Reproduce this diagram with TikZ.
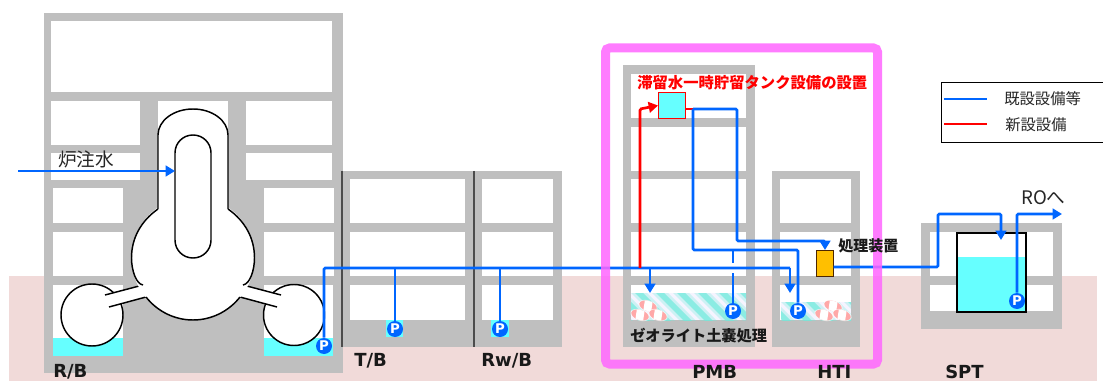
\documentclass[tikz,border=0pt]{standalone}
\usepackage{fontspec}
\usetikzlibrary{arrows.meta}
\setmainfont{DejaVu Sans}
\newfontfamily\cjk{Noto Sans CJK JP}
\definecolor{wallgray}{HTML}{BFBFBF}
\definecolor{ground}{HTML}{F1DAD9}
\definecolor{pipeblue}{HTML}{0066FF}
\definecolor{watercyan}{HTML}{66FFFF}
\definecolor{framepink}{HTML}{FF66FF}
\definecolor{stripeteal}{HTML}{6FEBDC}
\definecolor{stripebase}{HTML}{F6F4FF}
\definecolor{bagpink}{HTML}{FFA8A8}
\tikzset{
  x=0.75pt,y=-0.75pt,
  wall/.style={fill=wallgray,draw=none},
  room/.style={fill=white,draw=none},
  water/.style={fill=watercyan,draw=none},
  shellline/.style={draw=black,line width=1.1pt},
  shell/.style={shellline,fill=white},
  pipe/.style={draw=pipeblue,line width=2pt,rounded corners=1pt},
  newpipe/.style={draw=red,line width=2pt,rounded corners=1pt},
  pipetip/.style={-{Triangle[length=7pt,width=8pt]}},
  pump/.style={circle,fill=pipeblue,draw=none,inner sep=0pt,minimum size=12pt,text=white,font=\fontsize{10}{10}\selectfont\bfseries},
  jp/.style={font=\cjk\fontsize{#1}{#1}\selectfont,inner sep=0pt,text=black!85},
  jpb/.style={font=\cjk\bfseries\fontsize{#1}{#1}\selectfont,inner sep=0pt,text=black!90},
  lbl/.style={font=\fontsize{13.5}{13.5}\selectfont\bfseries,inner sep=0pt,text=black!90},
  divider/.style={draw=black!70,line width=0.8pt},
}
\newcommand{\rc}[5][room]{\fill[#1] (#2,#3) rectangle (#4,#5);}
\newcommand{\sandbag}[2]{%
  \begin{scope}[shift={(#1,#2)},rotate=-18]
    \fill[white,opacity=.7] (0,0) ellipse [x radius=10,y radius=5.6];
    \begin{scope}
      \clip (0,0) ellipse [x radius=9,y radius=5];
      \fill[bagpink] (-10,-6) rectangle (10,6);
      \fill[white] (-5,-6) -- (3,-6) -- (5,6) -- (-3,6) -- cycle;
    \end{scope}
  \end{scope}}
\newcommand{\zeolite}[4]{%
  \begin{scope}
    \clip (#1,#2) rectangle (#3,#4);
    \fill[stripebase] (#1,#2) rectangle (#3,#4);
    \foreach \k in {-60,-39,...,300}{
      \fill[stripeteal,opacity=.3] ({#1+\k-3},#2) -- ({#1+\k+13},#2) -- ({#1+\k+13+40},{#2+40}) -- ({#1+\k-3+40},{#2+40}) -- cycle;
      \fill[stripeteal,opacity=.7] ({#1+\k+1},#2) -- ({#1+\k+9},#2) -- ({#1+\k+9+40},{#2+40}) -- ({#1+\k+1+40},{#2+40}) -- cycle;
    }
  \end{scope}}
\begin{document}
\begin{tikzpicture}
\useasboundingbox (0,0) rectangle (1103,381);
\fill[white] (0,0) rectangle (1103,381);
% ground
\rc[fill=ground]{9}{276}{1097}{381}
% R/B
\rc[wall]{44}{13}{343}{373}
\rc{51}{21}{332}{92}
\rc{51}{101}{140}{145}\rc{246}{101}{332}{145}
\rc{158}{101}{228}{180}
\rc{51}{153}{140}{180}\rc{246}{153}{332}{180}
\rc{53}{188}{123}{223}\rc{264}{188}{334}{223}
\rc{53}{232}{123}{276}\rc{264}{232}{334}{276}
\rc{53}{285}{123}{356}\rc{264}{285}{333}{356}
\rc[water]{53}{338}{123}{356}\rc[water]{264}{338}{333}{356}
% containment
\draw[shell] (92,315) circle [radius=31];
\draw[shell] (294,315) circle [radius=30.5];
\fill[white] (105,295) -- (143,285) -- (146,297) -- (109,307) -- cycle;
\fill[white] (280,295) -- (243,285) -- (240,297) -- (277,307) -- cycle;
\draw[shellline] (105,295) -- (143,285) (109,307) -- (146,297);
\draw[shellline] (281,295) -- (243,285) (277,307) -- (240,297);
\fill[white] (193,258) circle [radius=61.5];
\fill[white] (158,135) arc [start angle=180,end angle=0,x radius=35,y radius=-26] -- (228,209) -- (158,209) -- cycle;
\draw[shellline] (158,209) -- (158,135) arc [start angle=180,end angle=0,x radius=35,y radius=-26] -- (228,209);
\draw[shellline] (228,209) .. controls (245,221) and (254.5,238) .. (254.5,258) .. controls (254.5,270) and (250,284) .. (243,285);
\draw[shellline] (240,297) .. controls (229,311) and (212,320) .. (193,320) .. controls (174,320) and (157,311) .. (146,297);
\draw[shellline] (143,285) .. controls (136,284) and (131.5,270) .. (131.5,258) .. controls (131.5,238) and (141,221) .. (158,209);
\draw[shell,rounded corners=13.4pt] (175,135) rectangle (211,258);
% T/B and Rw/B
\rc[wall]{342}{171}{473}{347}
\rc[wall]{474}{171}{562}{347}
\foreach \ya/\yb in {179/223,232/276,285/320}{\rc{350}{\ya}{465}{\yb}\rc{482}{\ya}{553}{\yb}}
\draw[divider] (342,171) -- (342,347);
\draw[divider] (474,171) -- (474,347);
\rc[water]{386}{320}{403}{337}
\rc[water]{491}{320}{509}{337}
% PMB
\rc[wall]{623}{65}{755}{347}
\foreach \ya/\yb in {74/118,127/171,179/223,232/276,285/320}{\rc{631}{\ya}{746}{\yb}}
\zeolite{631}{293}{746}{320}
\sandbag{648}{306}\sandbag{640}{315}\sandbag{658}{315}
% HTI
\rc[wall]{772}{171}{860}{347}
\foreach \ya/\yb in {179/223,232/276,285/320}{\rc{780}{\ya}{851}{\yb}}
\zeolite{781}{302}{851}{320}
\sandbag{833}{306}\sandbag{824}{315}\sandbag{842}{315}
% SPT
\rc[wall]{921}{223}{1062}{329}
\rc{930}{232}{1053}{276}\rc{930}{285}{1053}{311}
\rc[water]{957}{257}{1026}{311}
\node[draw=black,line width=1.5pt,fill=none,inner sep=0pt,minimum width=52pt,minimum height=59.5pt,anchor=north west] (sptank) at (956,232) {};
% equipment
\node[draw=red,fill=watercyan,line width=0.8pt,inner sep=0pt,minimum width=20pt,minimum height=19.5pt,anchor=north west] (tank) at (658,92) {};
\node[draw=black!70!orange,fill=orange!50!yellow,line width=0.8pt,inner sep=0pt,minimum width=12.5pt,minimum height=19.5pt,anchor=north west] (proc) at (816,250) {};
% pumps
\node[pump] (p1) at (324,346) {P};
\node[pump] (p2) at (395,329) {P};
\node[pump] (p3) at (500,329) {P};
\node[pump] (p4) at (733,311) {P};
\node[pump] (p5) at (798,311) {P};
\node[pump] (p6) at (1017,301) {P};
% junctions
\coordinate (rbup) at (324,268);
\coordinate (main2) at (395,268);
\coordinate (main3) at (500,268);
\coordinate (mainr) at (640,268);
\coordinate (main4) at (650,268);
\coordinate (main5) at (790,268);
\coordinate (a4) at (650,293);
\coordinate (a5) at (790,293);
\coordinate (rtop) at (640,109);
\coordinate (out) at (693,109);
\coordinate (o1) at (737,109);
\coordinate (o2) at (737,241);
\coordinate (o3) at (825,241);
\coordinate (d1) at (693,250);
\coordinate (d2) at (798,250);
\coordinate (d3) at (733,250);
\coordinate (d4) at (733,263);
\coordinate (d5) at (733,273);
\coordinate (s1) at (938,267);
\coordinate (s2) at (938,214);
\coordinate (s3) at (1001,214);
\coordinate (s4) at (1001,240);
\coordinate (s5) at (1017,214);
\coordinate (s6) at (1062,214);
\coordinate (in1) at (18,171);
\coordinate (in2) at (175,171);
% pipes
\draw[pipe] (p1) -- (rbup) -- (main5);
\draw[pipe,pipetip] (main5) -- (a5);
\draw[pipe] (main2) -- (p2);
\draw[pipe] (main3) -- (p3);
\draw[pipe,pipetip] (main4) -- (a4);
\draw[newpipe,pipetip] (mainr) -- (rtop) -- (tank.west);
\draw[newpipe] (tank.east |- out) -- (out);
\draw[pipe,pipetip] (out) -- (o1) -- (o2) -- (o3) -- (proc.north -| o3);
\draw[pipe] (out) -- (d1) -- (d2) -- (p5);
\draw[pipe] (d3) -- (d4);
\draw[pipe] (d5) -- (p4);
\draw[pipe,pipetip] (proc.east |- s1) -- (s1) -- (s2) -- (s3) -- (s4);
\draw[pipe,pipetip] (p6) -- (s5) -- (s6);
\draw[pipe,pipetip] (in1) -- (in2);
% frame
\draw[framepink,opacity=.85,line width=6.75pt,rounded corners=3pt] (605.5,48) rectangle (877.5,364);
% legend
\node[draw=black,fill=white,line width=0.8pt,inner sep=0pt,minimum width=121.5pt,minimum height=45pt,anchor=north west] (legend) at (940.5,82) {};
\coordinate (lb1) at (944,99); \coordinate (lb2) at (987,99);
\coordinate (lr1) at (944,124); \coordinate (lr2) at (987,124);
\draw[pipe] (lb1) -- (lb2);
\draw[newpipe] (lr1) -- (lr2);
\node[jp=11.5,anchor=west] (t1) at (1004,99) {既設設備等};
\node[jp=11.5,anchor=west] (t2) at (1005,125) {新設設備};
% labels
\node[jp=14,anchor=west] (t3) at (58,159) {炉注水};
\node[jpb=11.5,anchor=west,text=red] (t4) at (637,83) {滞留水一時貯留タンク設備の設置};
\node[jpb=11.25,anchor=west] (t5) at (838,246) {処理装置};
\node[jpb=11.4,anchor=west] (t6) at (630,336) {ゼオライト土嚢処理};
\node[jp=14,anchor=west] (t7) at (1021,198) {RO\cjk へ};
\node[lbl,anchor=west] (l1) at (53,371.5) {R/B};
\node[lbl,anchor=west] (l2) at (354,361) {T/B};
\node[lbl,anchor=west] (l3) at (481,361) {Rw/B};
\node[lbl,anchor=west] (l4) at (692,371.5) {PMB};
\node[lbl,anchor=west] (l5) at (817,371.5) {HTI};
\node[lbl,anchor=west] (l6) at (945,371.5) {SPT};
\end{tikzpicture}
\end{document}
